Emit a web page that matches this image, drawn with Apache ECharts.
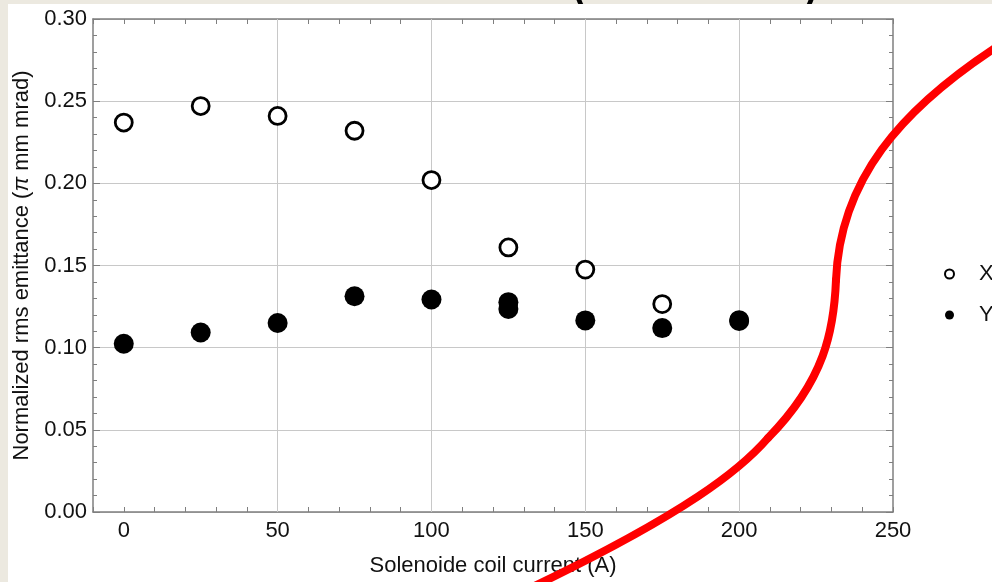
<!DOCTYPE html>
<html>
<head>
<meta charset="utf-8">
<style>
  html, body { margin: 0; padding: 0; background: #ece9e0; }
  #chart { width: 992px; height: 582px; }
</style>
<script src="https://cdn.jsdelivr.net/npm/echarts@6/dist/echarts.min.js"></script>
</head>
<body>
<div id="chart"></div>
<script>
// Solenoid coil current (A) for each measurement
const currentX = [0, 25, 50, 75, 100, 125, 150, 175, 200];
const emittanceX = [0.237, 0.247, 0.241, 0.232, 0.202, 0.161, 0.1475, 0.1265, 0.1168];

const currentY = [0, 25, 50, 75, 100, 125, 125, 150, 175, 200];
const emittanceY = [0.1024, 0.1092, 0.115, 0.1313, 0.1293, 0.1277, 0.1236, 0.1166, 0.1119, 0.1162];

// grid line positions
const gridX = [50, 100, 150, 200];

// hand-drawn red annotation stroke: cubic bezier pieces in canvas pixels
// [x1, y1, cpx1, cpy1, cpx2, cpy2, x2, y2]
const annotationStroke = [
  [998, 46, 900, 110, 840, 180, 836, 280],
  [836, 280, 834, 330, 825, 380, 768, 438],
  [768, 438, 742, 468, 690, 512, 522, 592]
];

const FONT = 'Liberation Sans, Arial, sans-serif';
const AXIS_GRAY = '#7f7f7f';

const pair = (xs, ys) => xs.map((x, i) => [x, ys[i]]);

const chart = echarts.init(document.getElementById('chart'), null, { renderer: 'canvas' });

const baseX = {
  type: 'value', min: -10, max: 250, interval: 10,
  axisLine: { show: true, onZero: false, lineStyle: { color: AXIS_GRAY, width: 1.5 } },
  axisTick: { show: true, inside: true, length: 5, lineStyle: { color: AXIS_GRAY, width: 1 } },
  splitLine: { show: false }
};
const baseY = {
  type: 'value', min: 0, max: 0.3, interval: 0.05,
  axisLine: { show: true, onZero: false, lineStyle: { color: AXIS_GRAY, width: 1.5 } },
  axisTick: { show: true, inside: true, length: 7, lineStyle: { color: AXIS_GRAY, width: 1 } },
  minorTick: { show: true, splitNumber: 5, length: 4, lineStyle: { color: AXIS_GRAY, width: 1 } },
  splitLine: { show: true, lineStyle: { color: '#c8c8c8', width: 1 } }
};

const strokeElements = annotationStroke.map(s => ({
  type: 'bezierCurve', z: 100,
  shape: { x1: s[0], y1: s[1], cpx1: s[2], cpy1: s[3], cpx2: s[4], cpy2: s[5], x2: s[6], y2: s[7] },
  style: { stroke: '#ff0000', lineWidth: 8, lineCap: 'round', fill: null }
}));

chart.setOption({
  backgroundColor: '#ece9e0',
  animation: false,
  textStyle: { fontFamily: FONT },
  graphic: [
    { type: 'text', z: -20, left: 573, top: -29,
      style: { text: '(', font: 'bold 36px ' + FONT, fill: '#000' } },
    { type: 'text', z: -20, left: 805, top: -29,
      style: { text: ')', font: 'bold 36px ' + FONT, fill: '#000' } },
    { type: 'rect', z: -10, shape: { x: 8, y: 4, width: 984, height: 578 },
      style: { fill: '#ffffff' } }
  ].concat(strokeElements),
  grid: { left: 93, top: 19, right: 99, bottom: 68, containLabel: false },
  legend: {
    orient: 'vertical', left: 944, top: 263, padding: 0,
    itemWidth: 9, itemHeight: 9, itemGap: 19,
    textStyle: { fontSize: 22, color: '#111', padding: [0, 0, 0, 20], lineHeight: 20, fontFamily: FONT },
    data: [
      { name: 'X', icon: 'circle', itemStyle: { color: '#fff', borderColor: '#000', borderWidth: 2 } },
      { name: 'Y', icon: 'circle', itemStyle: { color: '#000', borderWidth: 0 } }
    ]
  },
  xAxis: [
    Object.assign({}, baseX, {
      position: 'bottom',
      name: 'Solenoide coil current (A)', nameLocation: 'middle', nameGap: 43,
      nameTextStyle: { fontSize: 22, color: '#111', fontFamily: FONT },
      axisLabel: { fontSize: 22, color: '#111', margin: 8, fontFamily: FONT,
        formatter: v => (v >= 0 && v % 50 === 0) ? String(v) : '' }
    }),
    Object.assign({}, baseX, { position: 'top', axisLabel: { show: false } })
  ],
  yAxis: [
    Object.assign({}, baseY, {
      position: 'left',
      name: 'Normalized rms emittance ({i|π} mm mrad)', nameLocation: 'middle', nameGap: 60,
      nameTextStyle: { fontSize: 22, color: '#111', fontFamily: FONT,
        rich: { i: { fontSize: 22, fontStyle: 'italic', color: '#111', fontFamily: FONT } } },
      axisLabel: { fontSize: 22, color: '#111', margin: 6, fontFamily: FONT,
        formatter: v => v.toFixed(2) }
    }),
    Object.assign({}, baseY, { position: 'right', axisLabel: { show: false }, splitLine: { show: false } })
  ],
  series: [
    {
      name: 'grid', type: 'scatter', data: [], silent: true,
      markLine: {
        silent: true, z: 1, symbol: ['none', 'none'], label: { show: false },
        lineStyle: { color: '#c8c8c8', width: 1, type: 'solid' },
        emphasis: { disabled: true },
        data: gridX.map(v => ({ xAxis: v }))
      }
    },
    {
      name: 'X', type: 'scatter', z: 3, symbol: 'circle', symbolSize: 17,
      itemStyle: { color: '#ffffff', borderColor: '#000000', borderWidth: 2.8, opacity: 1 },
      data: pair(currentX, emittanceX)
    },
    {
      name: 'Y', type: 'scatter', z: 4, symbol: 'circle', symbolSize: 20,
      itemStyle: { color: '#000000', opacity: 1 },
      data: pair(currentY, emittanceY)
    }
  ]
});
</script>
</body>
</html>
